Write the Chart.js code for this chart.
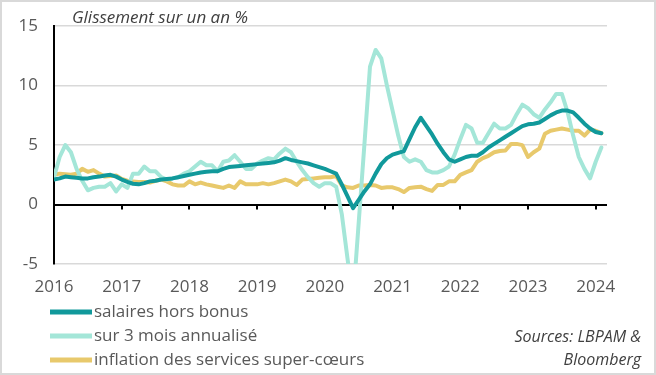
<!DOCTYPE html>
<html>
<head>
<meta charset="utf-8">
<script src="https://cdn.jsdelivr.net/npm/chart.js@4.4.1/dist/chart.umd.min.js"></script>
<style>
  html, body { margin: 0; padding: 0; background: #fff; }
  #wrap { width: 656px; height: 375px; position: relative; }
</style>
</head>
<body>
<div id="wrap"><canvas id="myChart"></canvas></div>
<script>
// months Jan 2016 .. Mar 2024 (last one has no data, it just closes the axis)
var months = [];
for (var yr = 2016; yr <= 2024; yr++) {
  for (var mo = 1; mo <= 12; mo++) {
    if (yr === 2024 && mo > 3) break;
    months.push(yr + '-' + (mo < 10 ? '0' + mo : mo));
  }
}

var yTicks = [-5, 0, 5, 10, 15];

var salaires = [
  2.1, 2.2, 2.35, 2.3, 2.25, 2.2, 2.2, 2.3, 2.35, 2.45,
  2.5, 2.35, 2.1, 1.9, 1.75, 1.7, 1.8, 1.95, 2.0, 2.1,
  2.15, 2.2, 2.3, 2.4, 2.5, 2.6, 2.7, 2.75, 2.8, 2.8,
  3.0, 3.15, 3.2, 3.25, 3.3, 3.35, 3.4, 3.45, 3.5, 3.55,
  3.7, 3.9, 3.75, 3.65, 3.55, 3.45, 3.3, 3.15, 3.0, 2.8,
  2.6, 1.7, 0.7, -0.3, 0.4, 1.1, 1.7, 2.6, 3.4, 3.9,
  4.2, 4.35, 4.5, 5.5, 6.5, 7.3, 6.6, 5.9, 5.1, 4.4,
  3.8, 3.6, 3.8, 4.0, 4.1, 4.1, 4.4, 4.8, 5.1, 5.4,
  5.7, 6.0, 6.3, 6.6, 6.75, 6.8, 6.9, 7.2, 7.5, 7.75,
  7.9, 7.9, 7.75, 7.3, 6.8, 6.4, 6.1, 6.0
];

var sur3mois = [
  2.3, 4.0, 5.0, 4.4, 3.0, 2.0, 1.2, 1.4, 1.5, 1.5,
  1.8, 1.1, 1.7, 1.4, 2.6, 2.6, 3.2, 2.8, 2.8, 2.3,
  2.1, 2.2, 2.3, 2.6, 2.8, 3.2, 3.6, 3.3, 3.3, 2.8,
  3.6, 3.7, 4.15, 3.6, 3.0, 3.0, 3.45, 3.7, 3.9, 3.8,
  4.3, 4.7, 4.4, 3.6, 2.9, 2.3, 1.8, 1.5, 1.8, 1.8,
  1.5, -0.8, -4.5, -8.0, -1.5, 5.0, 11.6, 13.0, 12.3, 10.0,
  7.9, 5.8, 4.0, 3.6, 3.8, 3.6, 2.9, 2.7, 2.7, 2.9,
  3.2, 4.2, 5.5, 6.7, 6.4, 5.2, 5.2, 6.0, 6.8, 6.4,
  6.4, 6.7, 7.6, 8.4, 8.1, 7.6, 7.3, 8.0, 8.6, 9.3,
  9.3, 7.8, 5.8, 4.0, 3.0, 2.2, 3.6, 4.8
];

var superCoeurs = [
  2.5, 2.6, 2.55, 2.5, 2.6, 3.0, 2.75, 2.9, 2.6, 2.35,
  2.4, 2.45, 2.15, 2.0, 1.95, 1.9, 1.9, 1.85, 2.0, 2.1,
  1.95, 1.7, 1.6, 1.6, 1.95, 1.7, 1.85, 1.7, 1.6, 1.5,
  1.4, 1.6, 1.4, 1.95, 1.7, 1.7, 1.7, 1.8, 1.7, 1.8,
  1.95, 2.1, 1.95, 1.65, 2.1, 2.15, 2.2, 2.25, 2.3, 2.3,
  2.4, 1.6, 1.45, 1.4, 1.6, 1.6, 1.65, 1.6, 1.4, 1.45,
  1.45, 1.3, 1.05, 1.4, 1.45, 1.5, 1.3, 1.15, 1.65, 1.65,
  1.95, 1.95, 2.5, 2.7, 2.9, 3.6, 3.9, 4.1, 4.4, 4.5,
  4.55, 5.1, 5.1, 5.0, 4.0, 4.4, 4.7, 5.95, 6.2, 6.3,
  6.4, 6.3, 6.2, 6.2, 5.8, 6.3, 6.2, 6.0
];

var FONT = "'Open Sans', sans-serif";
var GREY = '#595959';
Chart.defaults.font.family = FONT;

// background, axis tick marks on the zero line, title, legend, sources, frame
var extras = {
  id: 'extras',
  beforeDraw: function (chart) {
    var c = chart.ctx;
    c.save();
    c.fillStyle = '#fff';
    c.fillRect(0, 0, chart.width, chart.height);
    c.restore();
  },
  beforeDatasetsDraw: function (chart) {
    var c = chart.ctx, xs = chart.scales.x, ys = chart.scales.y;
    var y0 = ys.getPixelForValue(0);
    c.save();
    c.strokeStyle = '#000';
    c.lineWidth = 2;
    months.forEach(function (m, i) {
      if (m.slice(5) === '01') {
        var px = Math.round(xs.getPixelForValue(i));
        c.beginPath();
        c.moveTo(px, y0);
        c.lineTo(px, y0 + 5);
        c.stroke();
      }
    });
    c.restore();
  },
  afterDraw: function (chart) {
    var c = chart.ctx;
    c.save();
    // title
    c.fillStyle = '#404040';
    c.font = 'italic 17px ' + FONT;
    c.textBaseline = 'middle';
    c.textAlign = 'left';
    c.fillText('Glissement sur un an %', 72, 18);

    // legend
    var rows = [312, 336, 360];
    chart.data.datasets.forEach(function (ds, i) {
      c.strokeStyle = ds.borderColor;
      c.lineWidth = 5;
      c.beginPath();
      c.moveTo(50, rows[i]);
      c.lineTo(92, rows[i]);
      c.stroke();
      c.fillStyle = GREY;
      c.font = '17px ' + FONT;
      c.fillText(ds.label, 94, rows[i]);
    });

    // sources
    c.fillStyle = '#404040';
    c.font = 'italic 16px ' + FONT;
    c.textAlign = 'right';
    c.fillText('Sources: LBPAM &', 641, 337);
    c.fillText('Bloomberg', 641, 360);

    // frame
    c.strokeStyle = '#d9d9d9';
    c.lineWidth = 2;
    c.strokeRect(1, 1, chart.width - 2, chart.height - 2);
    c.restore();
  }
};

var ctx = document.getElementById('myChart').getContext('2d');
var myChart = new Chart(ctx, {
  type: 'line',
  data: {
    labels: months,
    datasets: [{
      label: 'salaires hors bonus',
      data: salaires,
      borderColor: '#11999b',
      borderWidth: 4,
    }, {
      label: 'sur 3 mois annualisé',
      data: sur3mois,
      borderColor: '#a4e6d8',
      borderWidth: 4,
    }, {
      label: 'inflation des services super-cœurs',
      data: superCoeurs,
      borderColor: '#e8c96c',
      borderWidth: 4,
    }]
  },
  options: {
    responsive: true,
    maintainAspectRatio: false,
    animation: false,
    devicePixelRatio: 1,
    layout: { padding: { left: 0, right: 49, top: 23, bottom: 0 } },
    elements: {
      point: { radius: 0 },
      line: { tension: 0, borderJoinStyle: 'round', borderCapStyle: 'round' }
    },
    datasets: { line: { clip: 0 } },
    scales: {
      x: {
        type: 'category',
        grid: { display: false, drawTicks: false },
        border: { display: false },
        ticks: {
          autoSkip: false,
          maxRotation: 0,
          padding: 13,
          color: GREY,
          font: { size: 17 },
          callback: function (val, idx) {
            var m = months[idx];
            return m.slice(5) === '01' ? m.slice(0, 4) : null;
          }
        },
        afterFit: function (s) { s.height = 375 - 264; }
      },
      y: {
        min: -5,
        max: 15,
        afterBuildTicks: function (s) {
          s.ticks = yTicks.map(function (v) { return { value: v }; });
        },
        border: { display: true, color: '#000', width: 2 },
        grid: {
          drawTicks: false,
          color: function (c) { return c.tick && c.tick.value === 0 ? '#000' : '#d9d9d9'; },
          lineWidth: function (c) { return c.tick && c.tick.value === 0 ? 2 : 1.5; }
        },
        ticks: {
          padding: 16,
          color: GREY,
          font: { size: 17 }
        },
        afterFit: function (s) { s.width = 54; }
      }
    },
    plugins: {
      legend: { display: false },
      tooltip: { enabled: false },
      title: { display: false }
    }
  },
  plugins: [extras]
});
</script>
</body>
</html>
